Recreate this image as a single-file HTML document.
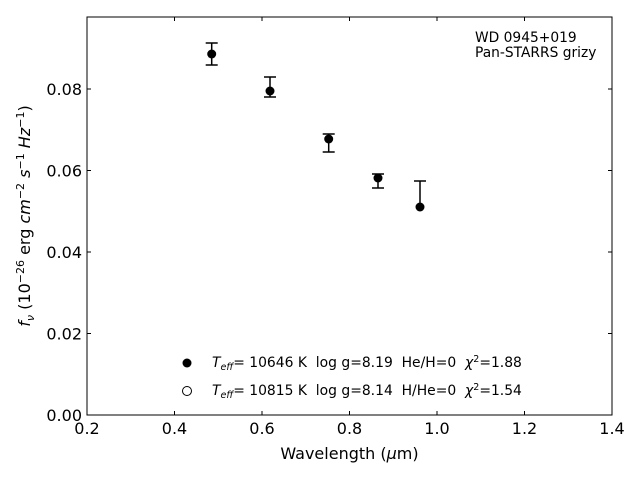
<!DOCTYPE html>
<html><head><meta charset="utf-8"><style>body{margin:0;background:#fff} text{white-space:pre}</style></head><body>
<svg width="640" height="480" xmlns="http://www.w3.org/2000/svg" font-family="'DejaVu Sans', sans-serif" xml:space="preserve">
<rect width="640" height="480" fill="#fff"/>
<g stroke="#000" stroke-width="1">
<line x1="87" y1="415" x2="87" y2="411"/><line x1="174.5" y1="415" x2="174.5" y2="411"/><line x1="262" y1="415" x2="262" y2="411"/><line x1="349.5" y1="415" x2="349.5" y2="411"/><line x1="437" y1="415" x2="437" y2="411"/><line x1="524.5" y1="415" x2="524.5" y2="411"/><line x1="612" y1="415" x2="612" y2="411"/>
<line x1="87" y1="17" x2="87" y2="21"/><line x1="174.5" y1="17" x2="174.5" y2="21"/><line x1="262" y1="17" x2="262" y2="21"/><line x1="349.5" y1="17" x2="349.5" y2="21"/><line x1="437" y1="17" x2="437" y2="21"/><line x1="524.5" y1="17" x2="524.5" y2="21"/><line x1="612" y1="17" x2="612" y2="21"/>
<line x1="87" y1="415" x2="91" y2="415"/><line x1="87" y1="333.5" x2="91" y2="333.5"/><line x1="87" y1="252" x2="91" y2="252"/><line x1="87" y1="170.5" x2="91" y2="170.5"/><line x1="87" y1="89" x2="91" y2="89"/>
<line x1="612" y1="415" x2="608" y2="415"/><line x1="612" y1="333.5" x2="608" y2="333.5"/><line x1="612" y1="252" x2="608" y2="252"/><line x1="612" y1="170.5" x2="608" y2="170.5"/><line x1="612" y1="89" x2="608" y2="89"/>
</g>
<rect x="87" y="17" width="525" height="398" fill="none" stroke="#000" stroke-width="1"/>
<g font-size="16" text-anchor="middle">
<text x="87" y="434">0.2</text><text x="174.5" y="434">0.4</text><text x="262" y="434">0.6</text><text x="349.5" y="434">0.8</text><text x="437" y="434">1.0</text><text x="524.5" y="434">1.2</text><text x="612" y="434">1.4</text>
</g>
<g font-size="16" text-anchor="end">
<text x="82" y="421">0.00</text><text x="82" y="339.5">0.02</text><text x="82" y="258">0.04</text><text x="82" y="176.5">0.06</text><text x="82" y="95">0.08</text>
</g>
<text x="349.5" y="459" font-size="16" text-anchor="middle">Wavelength (<tspan font-style="italic">μ</tspan>m)</text>
<text transform="translate(30,216) rotate(-90)" font-size="16" text-anchor="middle"><tspan font-style="italic">f</tspan><tspan font-style="italic" font-size="11" dy="4">ν</tspan><tspan dy="-4"> (10</tspan><tspan font-size="11" dy="-6">−26</tspan><tspan dy="6"> erg </tspan><tspan font-style="italic">cm</tspan><tspan font-size="11" dy="-6">−2</tspan><tspan dy="6"> </tspan><tspan font-style="italic">s</tspan><tspan font-size="11" dy="-6">−1</tspan><tspan dy="6"> </tspan><tspan font-style="italic">Hz</tspan><tspan font-size="11" dy="-6">−1</tspan><tspan dy="6">)</tspan></text>
<g stroke="#000" stroke-width="1.5" fill="none">
<path d="M211.7 43V65M205.7 43h12M205.7 65h12"/>
<path d="M270 77V97M264 77h12M264 97h12"/>
<path d="M328.7 134V152M322.7 134h12M322.7 152h12"/>
<path d="M378 174V188M372 174h12M372 188h12"/>
<path d="M420 181V207M414 181h12"/>
</g>
<g fill="#000">
<circle cx="211.7" cy="54" r="4.5"/><circle cx="270" cy="91" r="4.5"/><circle cx="328.7" cy="139" r="4.5"/><circle cx="378" cy="178" r="4.5"/><circle cx="420" cy="207" r="4.5"/>
</g>
<text x="475" y="42" font-size="13.8">WD 0945+019</text>
<text x="475" y="57" font-size="13.8">Pan-STARRS grizy</text>
<circle cx="187" cy="363" r="4.5" fill="#000"/>
<circle cx="187" cy="391" r="4.5" fill="#fff" stroke="#000" stroke-width="1"/>
<text x="212" y="367" font-size="13.9"><tspan font-style="italic">T</tspan><tspan font-style="italic" font-size="9.5" dy="3">eff</tspan><tspan dy="-3">= 10646 K  log g=8.19  He/H=0  </tspan><tspan font-style="italic">χ</tspan><tspan font-size="9.5" dy="-5">2</tspan><tspan dy="5">=1.88</tspan></text>
<text x="212" y="395" font-size="13.9"><tspan font-style="italic">T</tspan><tspan font-style="italic" font-size="9.5" dy="3">eff</tspan><tspan dy="-3">= 10815 K  log g=8.14  H/He=0  </tspan><tspan font-style="italic">χ</tspan><tspan font-size="9.5" dy="-5">2</tspan><tspan dy="5">=1.54</tspan></text>
</svg>
</body></html>
